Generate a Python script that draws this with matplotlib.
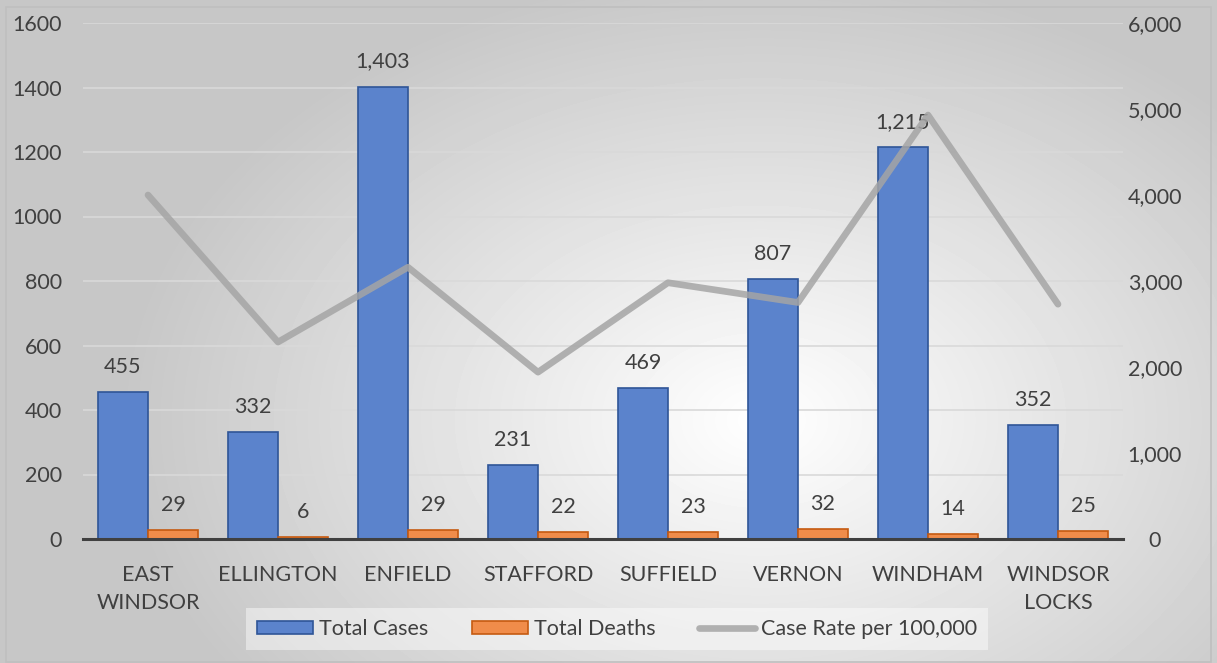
import numpy as np
import matplotlib.pyplot as plt
from matplotlib.patches import Rectangle

towns = ["EAST\nWINDSOR", "ELLINGTON", "ENFIELD", "STAFFORD", "SUFFIELD",
         "VERNON", "WINDHAM", "WINDSOR\nLOCKS"]
total_cases = [455, 332, 1403, 231, 469, 807, 1215, 352]
total_deaths = [29, 6, 29, 22, 23, 32, 14, 25]
case_rate = [4000, 2290, 3160, 1940, 2980, 2750, 4930, 2730]

left_ticks = [0, 200, 400, 600, 800, 1000, 1200, 1400, 1600]
right_ticks = [0, 1000, 2000, 3000, 4000, 5000, 6000]

plt.rcParams['font.family'] = ['Lato', 'DejaVu Sans']
txt = '#404040'
fs = 15.5

fig = plt.figure(figsize=(12.17, 6.63), dpi=100)

# background: radial gray gradient like the Excel chart area
bg = fig.add_axes([0, 0, 1, 1], zorder=-10)
yy, xx = np.mgrid[0:663, 0:1217]
r = np.sqrt(((xx - 760) / 1217) ** 2 + ((yy - 420) / 663) ** 2 * 0.6)
shade = np.clip(1.0 - r * 0.42, 0.78, 1.0)
bg.imshow(shade, cmap='gray', vmin=0, vmax=1, aspect='auto',
          extent=[0, 1, 0, 1], origin='upper')
bg.add_patch(Rectangle((0.005, 0.002), 0.99, 0.988, fill=False,
                       edgecolor='#bfbfbf', lw=1.2, transform=bg.transAxes))
bg.set_axis_off()

ax = fig.add_axes([83 / 1217, 1 - 539 / 663, 1040 / 1217, 516 / 663])
ax.set_facecolor('none')
ax2 = ax.twinx()

x = np.arange(len(towns))
w = 0.385
b1 = ax.bar(x - w / 2, total_cases, w, color='#5B83CC', edgecolor='#2F5597',
            lw=1.2, label='Total Cases', zorder=3)
b2 = ax.bar(x + w / 2, total_deaths, w, color='#F08C4A', edgecolor='#C55A11',
            lw=1.2, label='Total Deaths', zorder=3)

for bars, vals in ((b1, total_cases), (b2, total_deaths)):
    for rect, v in zip(bars, vals):
        ax.annotate(f"{v:,}", (rect.get_x() + rect.get_width() / 2, v),
                    xytext=(0, 18), textcoords='offset points', ha='center',
                    va='center', fontsize=fs, color=txt)

ln, = ax2.plot(x, case_rate, color='#A5A5A5', lw=4.8, alpha=0.85,
               solid_capstyle='round', solid_joinstyle='round',
               label='Case Rate per 100,000', zorder=4)

ax.set_xlim(-0.5, len(towns) - 0.5)
ax.set_ylim(0, 1600)
ax.set_yticks(left_ticks)
ax.set_yticklabels([str(t) for t in left_ticks])
ax2.set_ylim(0, 6000)
ax2.set_yticks(right_ticks)
ax2.set_yticklabels([f"{t:,}" for t in right_ticks], ha='center')

ax.set_xticks(x)
ax.set_xticklabels(towns, linespacing=1.45)
ax.grid(axis='y', color='#d9d9d9', lw=1.2, zorder=0)
ax.set_axisbelow(True)

for a in (ax, ax2):
    for s in a.spines.values():
        s.set_visible(False)
    a.tick_params(length=0, labelsize=fs, labelcolor=txt)
ax.tick_params(axis='x', pad=19)
ax.tick_params(axis='y', pad=15)
ax2.tick_params(axis='y', pad=23)
ax.spines['bottom'].set_visible(True)
ax.spines['bottom'].set_color('#404040')
ax.spines['bottom'].set_linewidth(2.2)
ax.spines['bottom'].set_zorder(5)

leg = fig.legend([b1, b2, ln], ['Total Cases', 'Total Deaths', 'Case Rate per 100,000'],
                 loc='center', bbox_to_anchor=(617 / 1217, 1 - 629 / 663), ncol=3,
                 fontsize=fs, frameon=True, fancybox=False, handlelength=2.6,
                 handleheight=0.6, handletextpad=0.3, columnspacing=2.0,
                 borderpad=0.5)
leg.get_frame().set_facecolor('white')
leg.get_frame().set_alpha(0.45)
leg.get_frame().set_edgecolor('none')
for t in leg.get_texts():
    t.set_color(txt)

fig.savefig('out.png', dpi=100)
